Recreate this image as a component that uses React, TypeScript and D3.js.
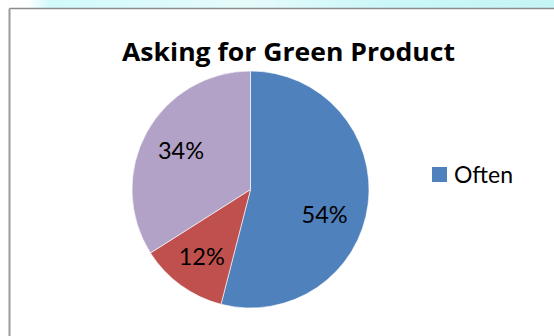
import React from "react";
import * as d3 from "d3";

const title = "Asking for Green Product";
const categories = ["Often", "Sometimes", "Never"];
const values = [54, 12, 34];
const legendItems = ["Often"];
const colors = ["#4F81BD", "#C0504D", "#B3A2C7"];

const W = 554;
const H = 336;
const FONT = "Lato, 'Open Sans', sans-serif";
const TITLE_FONT = "'Open Sans', Lato, sans-serif";

export default function App() {
  const cx = 250.5;
  const cy = 189.5;
  const r = 118.5;
  const pie = d3.pie<number>().sort(null).value((d) => d);
  const arcs = pie(values);
  const arcGen = d3.arc<d3.PieArcDatum<number>>().innerRadius(0).outerRadius(r);
  const total = d3.sum(values);
  const fmt = d3.format(".0%");
  // Excel's best-fit placement nudges the large slice's label down a little
  const labelAngleShift = [0.2, 0, 0];
  const labelRadius = [0.66, 0.7, 0.67];

  return (
    <div style={{ position: "fixed", left: 0, top: 0, width: W, height: H }}>
      <svg width={W} height={H} style={{ display: "block" }}>
        <defs>
          <linearGradient id="topbg" x1="0" x2="1" y1="0" y2="0">
            <stop offset="0" stopColor="#ffffff" />
            <stop offset="0.05" stopColor="#ffffff" />
            <stop offset="0.09" stopColor="#d2fafb" />
            <stop offset="0.45" stopColor="#e6fbfb" />
            <stop offset="0.7" stopColor="#cbf7f8" />
            <stop offset="1" stopColor="#c6f5f6" />
          </linearGradient>
        </defs>
        <rect x={0} y={0} width={W} height={H} fill="#ffffff" />
        <rect x={0} y={0} width={W} height={8.5} fill="url(#topbg)" />
        <rect x={9.5} y={8.5} width={W} height={H} fill="#ffffff" />
        <line x1={9.5} x2={W} y1={8.5} y2={8.5} stroke="#8c8c8c" strokeWidth={1.6} />
        <line x1={9.5} x2={9.5} y1={8.5} y2={H} stroke="#9a9a9a" strokeWidth={2} />
        <text
          x={288.5}
          y={61}
          textAnchor="middle"
          fontFamily={TITLE_FONT}
          fontWeight="bold"
          fontSize={25.5}
          textLength={333}
          lengthAdjust="spacingAndGlyphs"
          fill="#000"
        >
          {title}
        </text>
        <g transform={`translate(${cx},${cy})`}>
          {arcs.map((a, i) => (
            <path
              key={categories[i]}
              d={arcGen(a) || ""}
              fill={colors[i]}
              stroke="#ffffff"
              strokeWidth={0.6}
            />
          ))}
          {arcs.map((a, i) => {
            const mid = (a.startAngle + a.endAngle) / 2 + labelAngleShift[i];
            const lr = r * labelRadius[i];
            const x = lr * Math.sin(mid);
            const y = -lr * Math.cos(mid);
            return (
              <text
                key={"l" + i}
                x={x}
                y={y}
                dy="0.35em"
                textAnchor="middle"
                fontFamily={FONT}
                fontSize={23.5}
                fill="#000"
              >
                {fmt(a.data / total)}
              </text>
            );
          })}
        </g>
        {legendItems.map((name, i) => (
          <g key={name} transform={`translate(432,${167 + i * 24})`}>
            <rect x={0} y={0} width={15} height={15} fill={colors[i]} />
            <text x={22} y={15.5} fontFamily={FONT} fontSize={23} fill="#000">
              {name}
            </text>
          </g>
        ))}
      </svg>
    </div>
  );
}
